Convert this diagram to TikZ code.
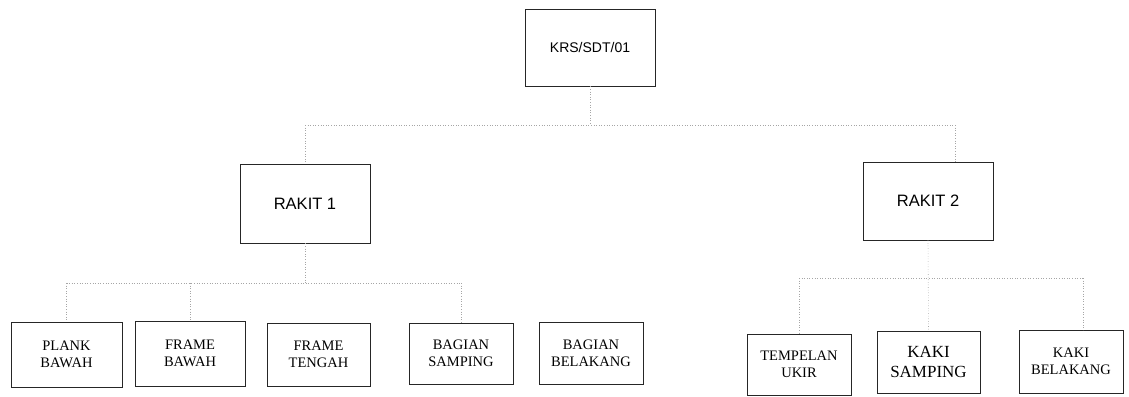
\documentclass[tikz,border=0pt]{standalone}
\usepackage{fontspec}
\setmainfont{Liberation Serif}
\newfontfamily\arialfont{Liberation Sans}
\begin{document}
\begin{tikzpicture}[x=1pt,y=-1pt,
  boxbase/.style={draw=black!85,line width=0.8pt,inner sep=0pt,align=center},
  topbox/.style={boxbase,font=\arialfont\fontsize{14}{17}\selectfont},
  rakitbox/.style={boxbase,font=\arialfont\fontsize{16.5}{19}\selectfont},
  partbox/.style={boxbase,font=\fontsize{14.5}{17}\selectfont},
  bigpart/.style={boxbase,font=\fontsize{17}{20}\selectfont},
  link/.style={draw=black!35,dotted,line width=0.6pt}]
\useasboundingbox (0,0) rectangle (1129,396);
\node[topbox,minimum width=130pt,minimum height=77pt] (krs) at (590,47.5) {KRS/SDT/01};
\node[rakitbox,minimum width=130pt,minimum height=79pt] (r1) at (305,203.5) {RAKIT 1};
\node[rakitbox,minimum width=130pt,minimum height=78pt] (r2) at (928,201) {RAKIT 2};
\node[partbox,minimum width=111pt,minimum height=65pt] (plank) at (66.5,354.5) {PLANK\\BAWAH};
\node[partbox,minimum width=110pt,minimum height=65pt] (fbawah) at (190,353.5) {FRAME\\BAWAH};
\node[partbox,minimum width=103pt,minimum height=63pt] (ftengah) at (318.5,354.5) {FRAME\\TENGAH};
\node[partbox,minimum width=104pt,minimum height=61pt] (bsamp) at (461,353.5) {BAGIAN\\SAMPING};
\node[partbox,minimum width=104pt,minimum height=62pt] (bbel) at (591,353) {BAGIAN\\BELAKANG};
\node[partbox,minimum width=104pt,minimum height=61pt] (temp) at (799,364.5) {TEMPELAN\\UKIR};
\node[bigpart,minimum width=103pt,minimum height=62pt] (ksamp) at (928.5,362) {KAKI\\SAMPING};
\node[partbox,minimum width=104pt,minimum height=63pt] (kbel) at (1071,361.5) {KAKI\\BELAKANG};
% level 1 connectors
\coordinate (b0) at (590,125);
\coordinate (b1) at (305,125);
\coordinate (b2) at (955,125);
\coordinate (r2t) at (955,162);
\draw[link] (krs.south) -- (b0);
\draw[link] (b1) -- (b2);
\draw[link] (b1) -- (r1.north);
\draw[link] (b2) -- (r2t);
% rakit 1 connectors
\coordinate (c0) at (305,283);
\coordinate (c1) at (66.5,283);
\coordinate (c2) at (190,283);
\coordinate (c3) at (461,283);
\draw[link] (r1.south) -- (c0);
\draw[link] (c1) -- (c3);
\draw[link] (c1) -- (plank.north);
\draw[link] (c2) -- (fbawah.north);
\draw[link] (c3) -- (bsamp.north);
% rakit 2 connectors
\coordinate (d1) at (799,278);
\coordinate (d3) at (1083,278);
\coordinate (kbt) at (1083,330);
\draw[link] (r2.south) -- (ksamp.north);
\draw[link] (d1) -- (d3);
\draw[link] (d1) -- (temp.north);
\draw[link] (d3) -- (kbt);
\end{tikzpicture}
\end{document}
